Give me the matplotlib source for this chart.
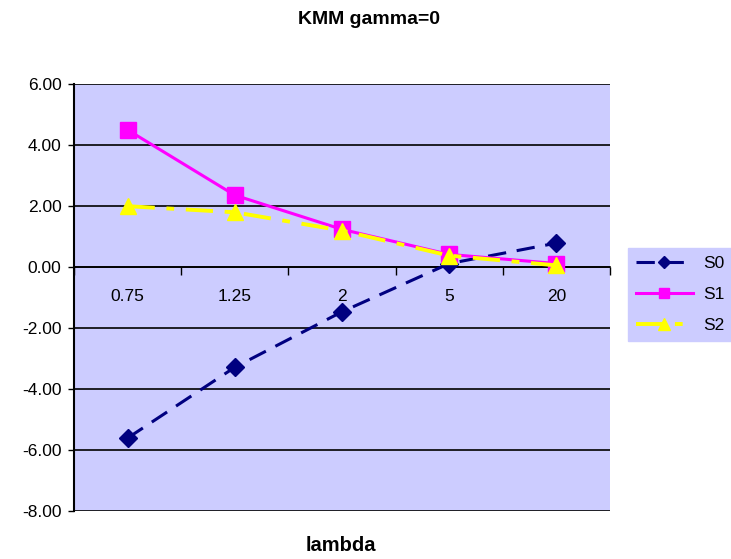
import numpy as np
import matplotlib
matplotlib.use("Agg")
import matplotlib.pyplot as plt

plt.rcParams["font.family"] = ["Liberation Sans", "DejaVu Sans"]

# data
lambdas = ["0.75", "1.25", "2", "5", "20"]
s0 = [-5.62, -3.30, -1.48, 0.10, 0.77]
s1 = [4.48, 2.34, 1.22, 0.40, 0.10]
s2 = [1.98, 1.78, 1.18, 0.36, 0.04]

fig = plt.figure(figsize=(7.31, 5.59), dpi=100)
ax = fig.add_axes([0.1012, 0.0864, 0.8345 - 0.1012, 0.8506 - 0.0864])
ax.set_facecolor("#CCCCFF")

x = np.arange(len(lambdas))

ax.plot(x, s0, color="#000080", lw=2.2, dashes=(6, 3.5), marker="D", ms=9,
        mfc="#000080", mec="#000080", label="S0", zorder=3)
ax.plot(x, s1, color="#FF00FF", lw=2.2, marker="s", ms=11,
        mfc="#FF00FF", mec="#FF00FF", label="S1", zorder=4)
ax.plot(x, s2, color="#FFFF00", lw=2.8, dashes=(7, 3, 2, 3), marker="^", ms=12,
        mfc="#FFFF00", mec="#FFFF00", label="S2", zorder=5)

# value axis
ax.set_ylim(-8, 6)
ax.set_yticks(np.arange(-8, 7, 2))
ax.set_yticklabels(["%.2f" % v for v in np.arange(-8, 7, 2)])
ax.yaxis.grid(True, color="black", lw=1.2)
ax.set_axisbelow(True)
ax.tick_params(axis="y", direction="out", length=4, width=1, pad=5, labelsize=12.5)

# category axis sits on zero
ax.set_xlim(-0.5, len(lambdas) - 0.5)
ax.set_xticks(np.arange(-0.5, len(lambdas), 1.0))
ax.set_xticklabels([])
ax.set_xticks(x, minor=True)
ax.set_xticklabels(lambdas, minor=True)
ax.tick_params(axis="x", which="major", direction="out", length=6, width=1)
ax.tick_params(axis="x", which="minor", length=0, pad=16, labelsize=12.5)

ax.spines["bottom"].set_position(("data", 0))
ax.spines["bottom"].set_linewidth(1.2)
ax.spines["left"].set_linewidth(1.5)
ax.spines["top"].set_visible(False)
ax.spines["right"].set_visible(False)

fig.text(0.505, 0.965, "KMM gamma=0", ha="center", va="center",
         fontsize=14, fontweight="bold")
fig.text(0.466, 0.025, "lambda", ha="center", va="center",
         fontsize=14.5, fontweight="bold")

leg = fig.legend(loc="upper left", bbox_to_anchor=(0.859, 0.556), frameon=True,
                 fontsize=12.5, handlelength=3.3, borderpad=0.45, labelspacing=0.9,
                 handletextpad=0.6, borderaxespad=0, markerscale=0.7, fancybox=False)
leg.get_frame().set_facecolor("#CCCCFF")
leg.get_frame().set_edgecolor("#CCCCFF")
leg.get_frame().set_alpha(1)

plt.savefig("out.png", dpi=100)
